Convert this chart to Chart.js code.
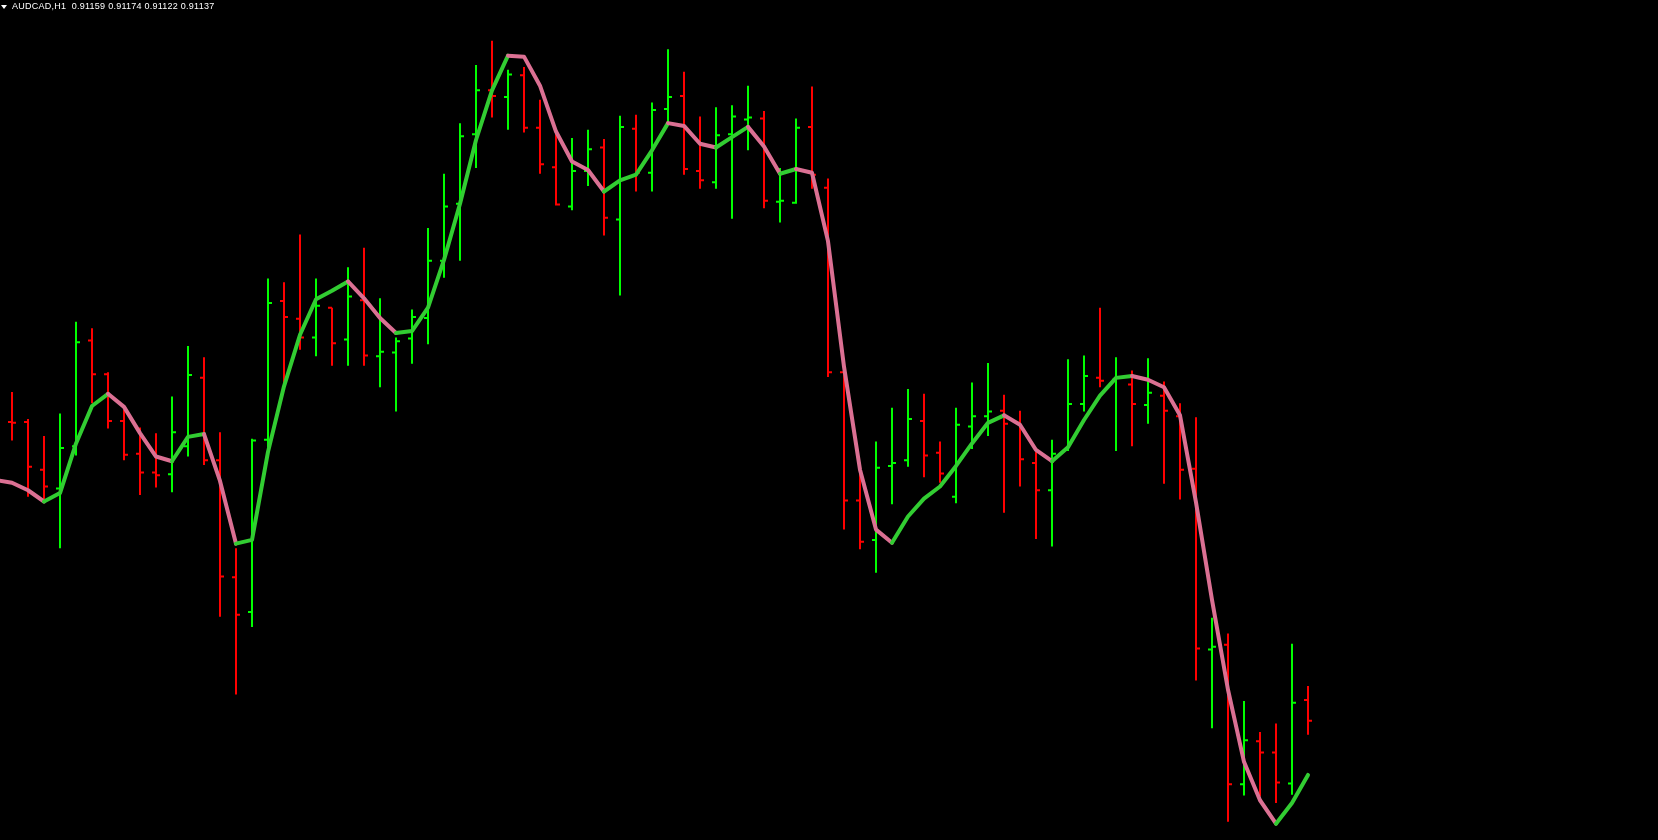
<!DOCTYPE html>
<html><head><meta charset="utf-8">
<script src="https://cdn.jsdelivr.net/npm/chart.js@4/dist/chart.umd.min.js"></script>
<style>
html,body{margin:0;padding:0;background:#000;overflow:hidden;}
#wrap{position:relative;width:1658px;height:840px;background:#000;}
canvas{display:block;}
#hdr{position:absolute;left:12px;top:1px;color:#fff;font:9px "Liberation Sans",Arial,sans-serif;letter-spacing:0.25px;white-space:pre;line-height:11px;}
#tri{position:absolute;left:1px;top:5px;width:0;height:0;border-left:3px solid transparent;border-right:3px solid transparent;border-top:4px solid #fff;}
</style></head><body>
<div id="wrap"><canvas id="c" width="1658" height="840"></canvas><div id="tri"></div><div id="hdr">AUDCAD,H1  0.91159 0.91174 0.91122 0.91137</div></div>
<script>
// AUDCAD H1 bars, index of first bar = -1 (partly off-screen)
const symbol = "AUDCAD,H1";
const firstBar = -1;
const opens = [0.91437,0.91456,0.91456,0.91405,0.91385,0.91430,0.91543,0.91507,0.91457,0.91422,0.91402,0.91400,0.91430,0.91503,0.91415,0.91290,0.91253,0.91437,0.91585,0.91566,0.91546,0.91578,0.91544,0.91586,0.91526,0.91530,0.91545,0.91567,0.91628,0.91689,0.91763,0.91810,0.91803,0.91826,0.91770,0.91728,0.91686,0.91724,0.91749,0.91672,0.91769,0.91722,0.91790,0.91804,0.91724,0.91712,0.91763,0.91779,0.91780,0.91691,0.91690,0.91771,0.91706,0.91509,0.91372,0.91330,0.91409,0.91415,0.91457,0.91423,0.91376,0.91451,0.91462,0.91468,0.91455,0.91412,0.91383,0.91426,0.91475,0.91503,0.91501,0.91496,0.91474,0.91484,0.91462,0.91406,0.91213,0.91218,0.91069,0.91115,0.91103,0.91070,0.91159];
const highs = [0.91474,0.91488,0.91459,0.91441,0.91465,0.91563,0.91556,0.91509,0.91469,0.91450,0.91444,0.91483,0.91537,0.91525,0.91445,0.91321,0.91438,0.91609,0.91605,0.91656,0.91609,0.91578,0.91621,0.91642,0.91588,0.91546,0.91576,0.91663,0.91721,0.91775,0.91837,0.91863,0.91832,0.91835,0.91800,0.91764,0.91759,0.91768,0.91758,0.91783,0.91784,0.91797,0.91854,0.91830,0.91782,0.91792,0.91794,0.91815,0.91788,0.91727,0.91780,0.91814,0.91716,0.91512,0.91401,0.91435,0.91471,0.91491,0.91486,0.91435,0.91471,0.91498,0.91519,0.91485,0.91468,0.91424,0.91437,0.91523,0.91527,0.91578,0.91525,0.91511,0.91524,0.91499,0.91476,0.91461,0.91247,0.91230,0.91158,0.91125,0.91134,0.91219,0.91174];
const lows = [0.91421,0.91436,0.91376,0.91373,0.91321,0.91420,0.91476,0.91449,0.91415,0.91378,0.91386,0.91381,0.91419,0.91410,0.91248,0.91165,0.91237,0.91429,0.91494,0.91533,0.91526,0.91516,0.91516,0.91516,0.91493,0.91467,0.91518,0.91539,0.91610,0.91628,0.91727,0.91781,0.91768,0.91765,0.91721,0.91687,0.91682,0.91708,0.91655,0.91591,0.91702,0.91702,0.91776,0.91720,0.91705,0.91705,0.91673,0.91746,0.91684,0.91669,0.91689,0.91705,0.91504,0.91341,0.91320,0.91295,0.91368,0.91408,0.91397,0.91391,0.91369,0.91427,0.91441,0.91359,0.91387,0.91331,0.91323,0.91425,0.91467,0.91493,0.91425,0.91430,0.91454,0.91390,0.91373,0.91180,0.91129,0.91029,0.91057,0.91056,0.91049,0.91058,0.91122];
const closes = [0.91457,0.91455,0.91408,0.91387,0.91428,0.91541,0.91507,0.91457,0.91421,0.91402,0.91399,0.91445,0.91506,0.91415,0.91291,0.91250,0.91436,0.91583,0.91568,0.91546,0.91580,0.91540,0.91590,0.91527,0.91531,0.91542,0.91568,0.91628,0.91686,0.91761,0.91810,0.91804,0.91827,0.91770,0.91731,0.91688,0.91724,0.91747,0.91674,0.91771,0.91722,0.91789,0.91803,0.91726,0.91714,0.91762,0.91782,0.91781,0.91692,0.91692,0.91770,0.91720,0.91509,0.91372,0.91328,0.91407,0.91412,0.91459,0.91420,0.91401,0.91453,0.91462,0.91467,0.91454,0.91416,0.91383,0.91422,0.91475,0.91505,0.91500,0.91504,0.91475,0.91487,0.91468,0.91405,0.91214,0.91216,0.91069,0.91116,0.91103,0.91071,0.91156,0.91137];
const maValues = [0.91394,0.91391,0.91383,0.91371,0.91380,0.91433,0.91473,0.91486,0.91472,0.91444,0.91419,0.91414,0.91440,0.91443,0.91393,0.91326,0.91330,0.91424,0.91494,0.91549,0.91587,0.91596,0.91606,0.91588,0.91567,0.91551,0.91553,0.91578,0.91629,0.91689,0.91757,0.91810,0.91847,0.91846,0.91815,0.91766,0.91734,0.91725,0.91702,0.91714,0.91720,0.91746,0.91775,0.91772,0.91753,0.91749,0.91760,0.91771,0.91750,0.91721,0.91726,0.91722,0.91649,0.91515,0.91405,0.91341,0.91327,0.91355,0.91374,0.91387,0.91409,0.91433,0.91455,0.91463,0.91453,0.91426,0.91414,0.91429,0.91458,0.91484,0.91503,0.91505,0.91501,0.91493,0.91463,0.91370,0.91266,0.91170,0.91093,0.91052,0.91027,0.91049,0.91079];

const UP_COLOR = '#00ff00', DOWN_COLOR = '#ff0000';
const MA_UP = '#32cd32', MA_DOWN = '#db7093';
const TICK = 0.25;

function barPath(wantUp){
  const pts = [];
  for (let i = 0; i < opens.length; i++){
    const k = firstBar + i;
    const up = closes[i] > opens[i];
    if (up !== wantUp) continue;
    pts.push({x:k-TICK,y:opens[i]},{x:k,y:opens[i]},{x:k,y:null},
             {x:k,y:highs[i]},{x:k,y:lows[i]},{x:k,y:null},
             {x:k,y:closes[i]},{x:k+TICK,y:closes[i]},{x:k+TICK,y:null});
  }
  return pts;
}
const maData = maValues.map((v,i)=>({x:firstBar+i,y:v}));

new Chart(document.getElementById('c'), {
  type:'line',
  data:{datasets:[
    {data:maData, borderWidth:4, pointRadius:0, order:0, borderJoinStyle:'round', borderCapStyle:'round',
     segment:{borderColor:ctx=> ctx.p1.parsed.y > ctx.p0.parsed.y ? MA_UP : MA_DOWN}, borderColor:MA_DOWN},
    {data:barPath(true), borderColor:UP_COLOR, borderWidth:2, pointRadius:0, spanGaps:false, order:1, borderCapStyle:'butt'},
    {data:barPath(false), borderColor:DOWN_COLOR, borderWidth:2, pointRadius:0, spanGaps:false, order:1, borderCapStyle:'butt'}
  ]},
  options:{
    responsive:false, animation:false, devicePixelRatio:1,
    layout:{padding:0},
    parsing:true, normalized:true,
    plugins:{legend:{display:false}, tooltip:{enabled:false}, title:{display:false}},
    scales:{
      x:{type:'linear', display:false, min:-0.75, max:102.875},
      y:{type:'linear', display:false, min:0.9100956, max:0.9190648}
    }
  }
});
</script>
</body></html>
